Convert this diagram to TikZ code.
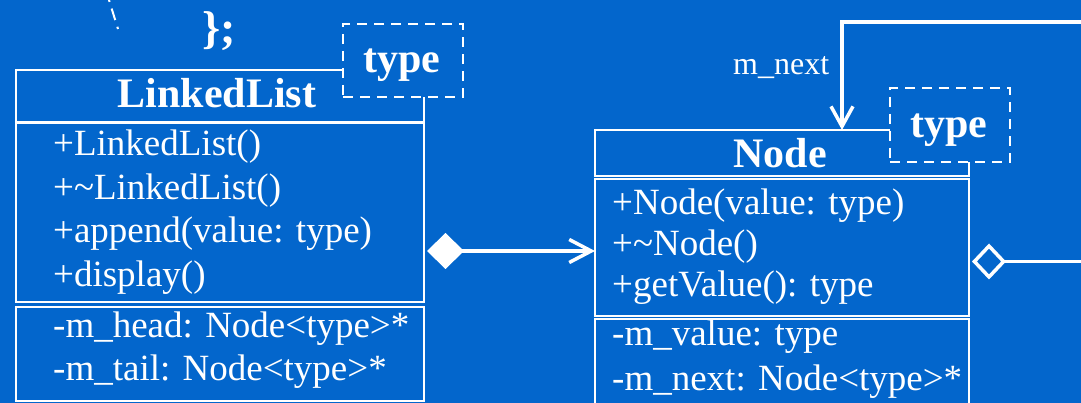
\documentclass[tikz,border=0pt]{standalone}
\usepackage{fontspec}
\setmainfont{Liberation Serif}
\usetikzlibrary{arrows.meta,calc}
\definecolor{umlblue}{RGB}{3,102,204}
\newcommand\membersize{\fontsize{37}{44}\selectfont}
\newcommand\headsize{\fontsize{42}{50}\selectfont\bfseries}
\tikzset{
  compartment/.style={draw=white, line width=2.2pt, inner sep=0pt, outer sep=0pt, anchor=north west},
  member/.style={anchor=base west, inner sep=0pt, text=white, font=\membersize},
  heading/.style={anchor=base, inner sep=0pt, text=white, font=\headsize},
  tparam/.style={draw=white, line width=2.5pt, dash pattern=on 10pt off 7pt, fill=umlblue,
                 inner sep=0pt, outer sep=0pt, anchor=north west},
  link/.style={draw=white, line width=3.5pt},
  rolelabel/.style={anchor=base west, inner sep=0pt, text=white, font=\fontsize{32}{38}\selectfont},
}
\begin{document}
\begin{tikzpicture}[x=1pt,y=-1pt]
\useasboundingbox (0,0) rectangle (1081,403);
\fill[umlblue] (0,0) rectangle (1081,403);
\clip (0,0) rectangle (1081,403);

% tail of a dashed line coming from above
\draw[white, line width=2pt, dash pattern=on 12pt off 7pt, dash phase=10pt] (109,0) -- (118,29);
\node[heading, anchor=base west, font=\fontsize{46}{54}\selectfont\bfseries] (closing) at (202,44) {\};};

% class LinkedList
\node[compartment, minimum width=408pt, minimum height=52pt]  (llTitle) at (16,70) {};
\node[compartment, minimum width=408pt, minimum height=179pt] (llOps)   at (16,123) {};
\node[compartment, minimum width=408pt, minimum height=94pt]  (llAttrs) at (16,307) {};
\node[tparam, minimum width=120pt, minimum height=73pt] (llType) at (343,24) {};
\node[heading] (llTypeText) at (402,73) {type};
\node[heading] (llName) at (217,108) {LinkedList};
\node[member] (ll1) at (53,156) {+LinkedList()};
\node[member] (ll2) at (53,200) {+\char`\~LinkedList()};
\node[member] (ll3) at (53,243) {+append(value: type)};
\node[member] (ll4) at (53,287) {+display()};
\node[member] (ll5) at (53,337) {-m\_head: Node<type>*};
\node[member] (ll6) at (53,380) {-m\_tail: Node<type>*};

% class Node
\node[compartment, minimum width=374pt, minimum height=46pt]  (nodeTitle) at (595,130) {};
\node[compartment, minimum width=374pt, minimum height=137pt] (nodeOps)   at (595,179) {};
\node[compartment, minimum width=374pt, minimum height=110pt] (nodeAttrs) at (595,319) {};
\node[tparam, minimum width=120pt, minimum height=74pt] (nodeType) at (890,88) {};
\node[heading] (nodeTypeText) at (949,138) {type};
\node[heading] (nodeName) at (780,168) {Node};
\node[member] (nd1) at (612,215) {+Node(value: type)};
\node[member] (nd2) at (612,256) {+\char`\~Node()};
\node[member] (nd3) at (612,297) {+getValue(): type};
\node[member] (nd4) at (612,345) {-m\_value: type};
\node[member] (nd5) at (612,390) {-m\_next: Node<type>*};

% composition LinkedList -> Node
\draw[link, {Diamond[length=37pt,width=36pt]}-{Straight Barb[length=22pt,width=23pt]}]
  ($(llOps.east |- 0,251)+(3,0)$) -- (nodeOps.west |- 0,251);

% self association m_next
\coordinate (loopTop) at (1100,22);
\draw[link, {Diamond[open,length=34pt,width=36pt]}-{Straight Barb[length=20pt,width=22pt]}]
  ($(nodeOps.east |- 0,261.5)+(3,0)$) -| (loopTop) -| ($(nodeTitle.north)+(60,0)$);
\node[rolelabel] (nextLabel) at (733,75) {m\_next};
\end{tikzpicture}
\end{document}
